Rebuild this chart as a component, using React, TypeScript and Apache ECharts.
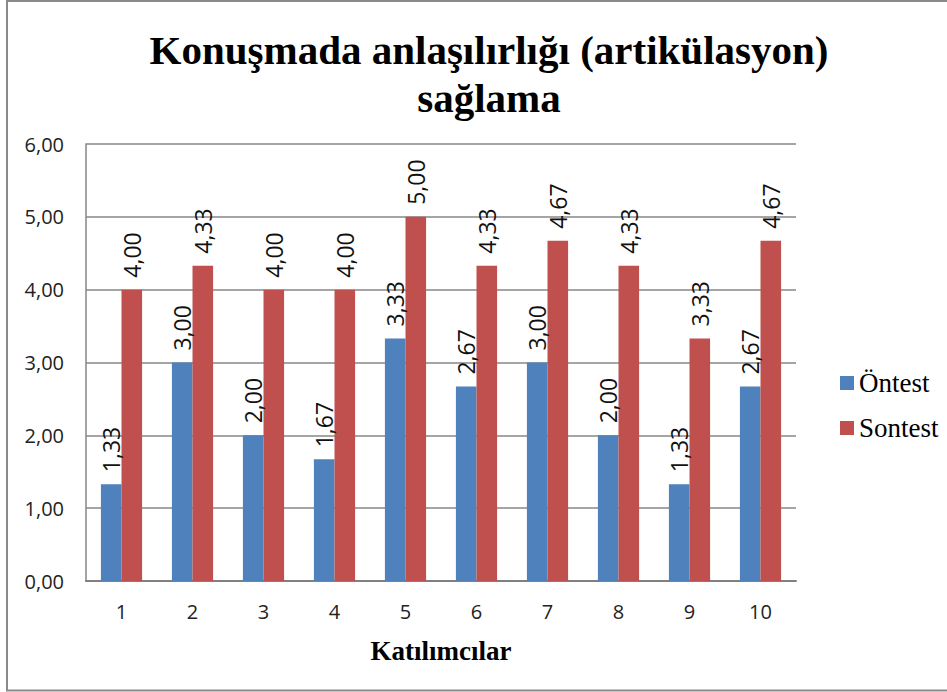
import React, { useEffect, useRef } from "react";
import * as echarts from "echarts";

const categories = ["1", "2", "3", "4", "5", "6", "7", "8", "9", "10"];
const seriesNames = ["Öntest", "Sontest"];
const ontest = [1.33, 3.0, 2.0, 1.67, 3.33, 2.67, 3.0, 2.0, 1.33, 2.67];
const sontest = [4.0, 4.33, 4.0, 4.0, 5.0, 4.33, 4.67, 4.33, 3.33, 4.67];
const titleText = "Konuşmada anlaşılırlığı (artikülasyon)\nsağlama";
const xAxisTitle = "Katılımcılar";

const fmt = (v: number) => v.toFixed(2).replace(".", ",");

export default function App() {
  const ref = useRef<HTMLDivElement>(null);
  useEffect(() => {
    if (!ref.current) return;
    const chart = echarts.init(ref.current, null, { renderer: "svg" });
    const serif = "'Liberation Serif', 'Times New Roman', serif";
    const sans = "'Open Sans', 'Noto Sans', sans-serif";
    const labelCfg = {
      show: true,
      position: "top",
      rotate: 90,
      align: "left",
      verticalAlign: "middle",
      distance: 12,
      fontFamily: sans,
      fontSize: 23,
      color: "#111",
      formatter: (p: any) => fmt(p.value),
    };
    chart.setOption({
      animation: false,
      backgroundColor: "#ffffff",
      title: {
        text: titleText,
        left: 484,
        top: 21,
        textAlign: "center",
        textStyle: {
          fontFamily: serif,
          fontWeight: "bold",
          fontSize: 41,
          lineHeight: 48,
          color: "#000",
        },
      },
      legend: {
        orient: "vertical",
        left: 835,
        top: 362,
        itemWidth: 14,
        itemHeight: 14,
        itemGap: 13,
        icon: "rect",
        textStyle: {
          fontFamily: serif,
          fontSize: 27,
          lineHeight: 32,
          color: "#000",
        },
        data: seriesNames,
      },
      grid: {
        left: 86,
        right: 151,
        top: 144,
        bottom: 111,
        containLabel: false,
      },
      xAxis: {
        type: "category",
        data: categories,
        name: xAxisTitle,
        nameLocation: "middle",
        nameGap: 56,
        nameTextStyle: {
          fontFamily: serif,
          fontWeight: "bold",
          fontSize: 27,
          color: "#000",
        },
        axisLine: { show: true, lineStyle: { color: "#808080", width: 2 } },
        axisTick: { show: false },
        axisLabel: {
          fontFamily: sans,
          fontSize: 20,
          color: "#222",
          margin: 20,
        },
      },
      yAxis: {
        type: "value",
        min: 0,
        max: 6,
        interval: 1,
        axisLine: { show: true, lineStyle: { color: "#868686", width: 1.5 } },
        axisTick: { show: false },
        axisLabel: {
          fontFamily: sans,
          fontSize: 20,
          color: "#222",
          margin: 22,
          formatter: (v: number) => fmt(v),
        },
        splitLine: { show: true, lineStyle: { color: "#878787", width: 1.5 } },
      },
      series: [
        {
          name: seriesNames[0],
          type: "bar",
          data: ontest,
          barGap: "0%",
          barCategoryGap: "42%",
          itemStyle: { color: "#4F81BD" },
          label: labelCfg,
        },
        {
          name: seriesNames[1],
          type: "bar",
          data: sontest,
          barGap: "0%",
          barCategoryGap: "42%",
          itemStyle: { color: "#C0504D" },
          label: labelCfg,
        },
      ],
      graphic: [
        {
          type: "rect",
          shape: { x: 7, y: 1, width: 960, height: 689.5 },
          style: { fill: "none", stroke: "#8a8a8a", lineWidth: 2 },
          silent: true,
        },
      ],
    });
    return () => chart.dispose();
  }, []);
  return (
    <div
      ref={ref}
      style={{ position: "absolute", left: 0, top: 0, width: 947, height: 692 }}
    />
  );
}
